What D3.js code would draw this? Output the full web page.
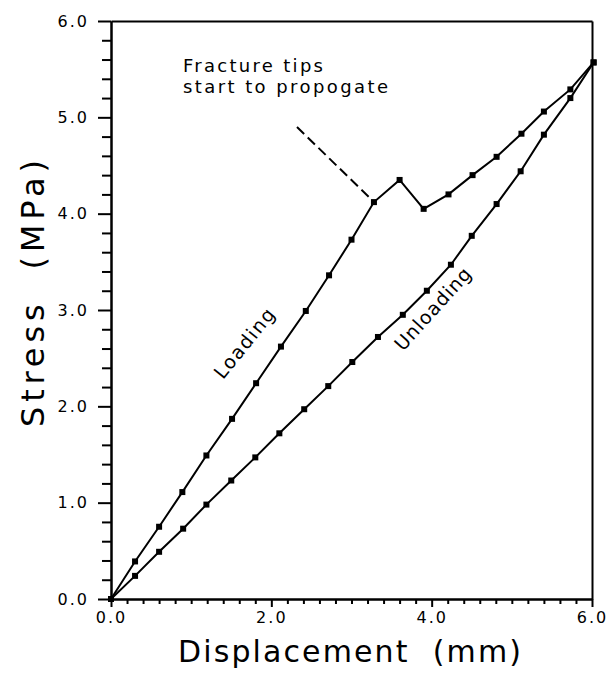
<!DOCTYPE html>
<html lang="en">
<head>
    <meta charset="utf-8">
    <title>Stress vs Displacement</title>
    <script type="text/javascript" src="https://d3js.org/d3.v7.min.js"></script>
    <style>
        body { margin: 0; background: white; }
        text { font-family: "DejaVu Sans", sans-serif; fill: black; }
        .domain, .tick line { stroke: black; stroke-width: 2px; }
        g.tick text { font-size: 16px !important; letter-spacing: 2px; }
    </style>
</head>
<body>
    <div id="chart"></div>
    <script type="text/javascript">
        // data (displacement mm, stress MPa)
        const loadX = [0, 0.30, 0.60, 0.89, 1.19, 1.51, 1.81, 2.12, 2.43, 2.72, 3.00, 3.28, 3.60, 3.90, 4.21, 4.51, 4.81, 5.12, 5.40, 5.73, 6.02];
        const loadY = [0, 0.39, 0.75, 1.11, 1.49, 1.87, 2.24, 2.62, 2.99, 3.36, 3.73, 4.12, 4.35, 4.05, 4.20, 4.40, 4.59, 4.83, 5.06, 5.29, 5.57];
        const unloadX = [0, 0.30, 0.60, 0.90, 1.19, 1.50, 1.80, 2.10, 2.41, 2.71, 3.01, 3.33, 3.64, 3.94, 4.24, 4.50, 4.81, 5.11, 5.40, 5.73, 6.02];
        const unloadY = [0, 0.24, 0.49, 0.73, 0.98, 1.23, 1.47, 1.72, 1.97, 2.21, 2.46, 2.72, 2.95, 3.20, 3.47, 3.77, 4.10, 4.44, 4.82, 5.20, 5.57];
        const majorTicks = [0, 2, 4, 6];
        const yMajorTicks = [0, 1, 2, 3, 4, 5, 6];
        const noteLine = [[2.32, 4.90], [3.27, 4.13]];

        const width = 612;
        const height = 676;

        const svg = d3.select("#chart")
            .append("svg")
            .attr("width", width)
            .attr("height", height);

        const x = d3.scaleLinear().domain([0, 6]).range([111, 592]);
        const y = d3.scaleLinear().domain([0, 6]).range([599, 21]);

        const minorX = d3.range(0, 30.5, 1).map(d => d / 5).filter(d => d % 2 !== 0);
        const minorY = d3.range(0, 30.5, 1).map(d => d / 5).filter(d => !Number.isInteger(d));

        // frame top and right
        svg.append("g")
            .attr("transform", `translate(0,${y(6)})`)
            .call(d3.axisTop(x).tickValues([]).tickSizeOuter(0));
        svg.append("g")
            .attr("transform", `translate(${x(6)},0)`)
            .call(d3.axisRight(y).tickValues([]).tickSizeOuter(0));

        // x axis
        svg.append("g")
            .attr("transform", `translate(0,${y(0)})`)
            .call(d3.axisBottom(x).tickValues(minorX).tickSize(5).tickSizeOuter(0).tickFormat(""));
        svg.append("g")
            .attr("transform", `translate(0,${y(0)})`)
            .call(d3.axisBottom(x).tickValues(majorTicks).tickSize(8).tickPadding(5).tickSizeOuter(0).tickFormat(d3.format(".1f")));

        // y axis
        svg.append("g")
            .attr("transform", `translate(${x(0)},0)`)
            .call(d3.axisLeft(y).tickValues(minorY).tickSize(9).tickSizeOuter(0).tickFormat(""));
        svg.append("g")
            .attr("transform", `translate(${x(0)},0)`)
            .call(d3.axisLeft(y).tickValues(yMajorTicks).tickSize(13).tickPadding(9).tickSizeOuter(0).tickFormat(d3.format(".1f")));

        const line = d3.line()
            .x(d => x(d[0]))
            .y(d => y(d[1]));

        function plotSeries(xs, ys) {
            const pts = xs.map((d, i) => [d, ys[i]]);
            svg.append("path")
                .datum(pts)
                .attr("d", line)
                .attr("fill", "none")
                .attr("stroke", "black")
                .attr("stroke-width", 2);
            svg.append("g")
                .selectAll("rect")
                .data(pts)
                .enter()
                .append("rect")
                    .attr("x", d => x(d[0]) - 3)
                    .attr("y", d => y(d[1]) - 3)
                    .attr("width", 6)
                    .attr("height", 6)
                    .attr("fill", "black");
        }

        plotSeries(loadX, loadY);
        plotSeries(unloadX, unloadY);

        // dashed pointer
        svg.append("path")
            .datum(noteLine)
            .attr("d", line)
            .attr("fill", "none")
            .attr("stroke", "black")
            .attr("stroke-width", 2)
            .attr("stroke-dasharray", "10,5");

        // annotation
        svg.append("text")
            .attr("x", 183).attr("y", 72)
            .attr("font-size", 18)
            .attr("textLength", 140)
            .attr("lengthAdjust", "spacing")
            .text("Fracture tips");
        svg.append("text")
            .attr("x", 183).attr("y", 93)
            .attr("font-size", 18)
            .attr("textLength", 205)
            .attr("lengthAdjust", "spacing")
            .text("start to propogate");

        svg.append("text")
            .attr("transform", "translate(250,347) rotate(-51)")
            .attr("text-anchor", "middle")
            .attr("font-size", 19)
            .attr("letter-spacing", 1.5)
            .text("Loading");
        svg.append("text")
            .attr("transform", "translate(438,313) rotate(-48)")
            .attr("text-anchor", "middle")
            .attr("font-size", 19)
            .attr("letter-spacing", 1)
            .text("Unloading");

        // axis titles
        svg.append("text")
            .attr("x", 178).attr("y", 662)
            .attr("font-size", 30)
            .attr("textLength", 343)
            .attr("lengthAdjust", "spacing")
            .text("Displacement\u00a0\u00a0(mm)");
        svg.append("text")
            .attr("transform", "translate(44,427) rotate(-90)")
            .attr("font-size", 32)
            .attr("textLength", 267)
            .attr("lengthAdjust", "spacing")
            .text("Stress\u00a0\u00a0(MPa)");
    </script>
</body>
</html>
